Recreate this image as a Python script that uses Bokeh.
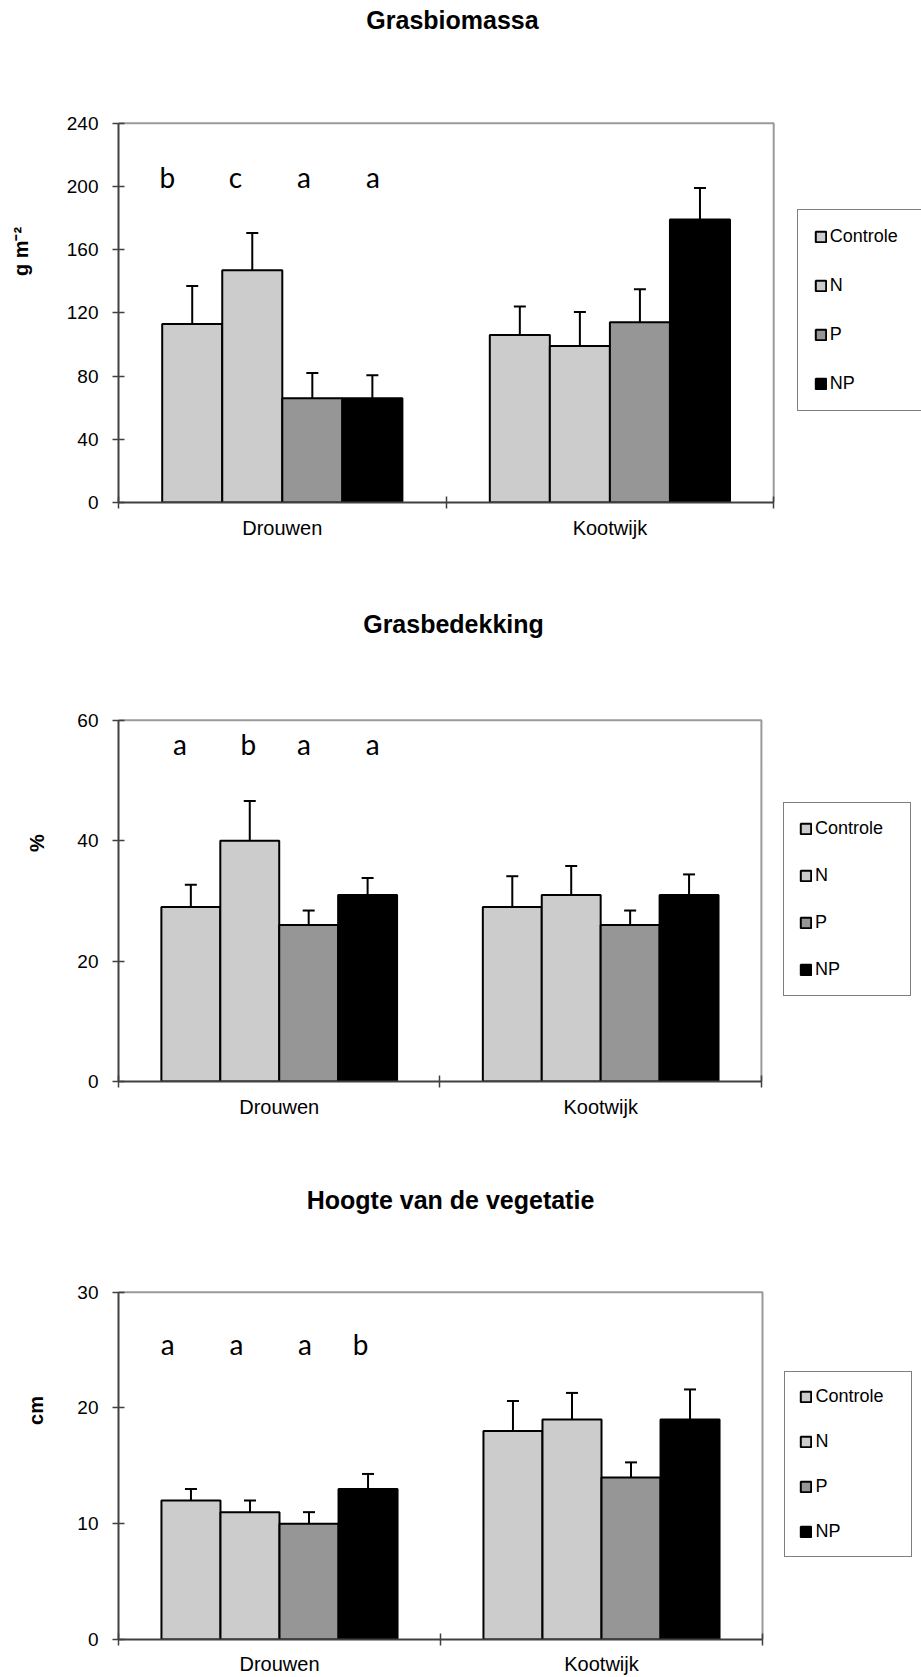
from bokeh.plotting import figure
from bokeh.models import (ColumnDataSource, FixedTicker, Legend, LegendItem,
                          Whisker, TeeHead, Range1d)
from bokeh.layouts import column
from bokeh.embed import file_html
from bokeh.resources import INLINE
from bokeh.core.properties import value

# ---------------- data ----------------
sites = ["Drouwen", "Kootwijk"]
treatments = ["Controle", "N", "P", "NP"]

# Grasbiomassa (g m-2)
biomass_drouwen = [113, 147, 66, 66]
biomass_kootwijk = [106, 99, 114, 179]
biomass_err_drouwen = [24, 23.5, 16, 14.5]
biomass_err_kootwijk = [18, 21.5, 21, 20]
biomass_letters = ["b", "c", "a", "a"]
biomass_ticks = [0, 40, 80, 120, 160, 200, 240]

# Grasbedekking (%)
cover_drouwen = [29, 40, 26, 31]
cover_kootwijk = [29, 31, 26, 31]
cover_err_drouwen = [3.7, 6.6, 2.4, 2.8]
cover_err_kootwijk = [5.1, 4.8, 2.4, 3.4]
cover_letters = ["a", "b", "a", "a"]
cover_ticks = [0, 20, 40, 60]

# Hoogte van de vegetatie (cm)
height_drouwen = [12, 11, 10, 13]
height_kootwijk = [18, 19, 14, 19]
height_err_drouwen = [1.0, 1.0, 1.0, 1.3]
height_err_kootwijk = [2.6, 2.3, 1.3, 2.6]
height_letters = ["a", "a", "a", "b"]
height_ticks = [0, 10, 20, 30]

# ---------------- styles / layout (pixels) ----------------
BAR_COLORS = ["#CCCCCC", "#CCCCCC", "#969696", "#000000"]
FONT = "Liberation Sans"
BAR_W = 0.1833
FIG_W = 921
LEFT = 118  # frame left edge (px)

panels = [
    dict(title="Grasbiomassa", ylabel="g m\u207b\u00b2", ticks=biomass_ticks,
         d=biomass_drouwen, k=biomass_kootwijk, ed=biomass_err_drouwen, ek=biomass_err_kootwijk,
         letters=biomass_letters, lx=[0.149, 0.357, 0.566, 0.777], ly=206.0,
         h=604, bottom=102, plot_top=122.7, plot_right=773.2, title_xy=(452, 19),
         leg=(678.7, 90.9), leg_pad=16, leg_sp=28, leg_lw=78, xstand=8, ystand=32),
    dict(title="Grasbedekking", ylabel="%", ticks=cover_ticks,
         d=cover_drouwen, k=cover_kootwijk, ed=cover_err_drouwen, ek=cover_err_kootwijk,
         letters=cover_letters, lx=[0.191, 0.404, 0.577, 0.791], ly=56.0,
         h=577, bottom=100, plot_top=115.8, plot_right=760.9, title_xy=(453, 19.4),
         leg=(665, 85.4), leg_pad=15, leg_sp=26, leg_lw=80, xstand=8, ystand=26),
    dict(title="Hoogte van de vegetatie", ylabel="cm", ticks=height_ticks,
         d=height_drouwen, k=height_kootwijk, ed=height_err_drouwen, ek=height_err_kootwijk,
         letters=height_letters, lx=[0.153, 0.366, 0.579, 0.752], ly=25.5,
         h=496, bottom=38, plot_top=110.7, plot_right=762.0, title_xy=(450, 18.8),
         leg=(666.4, 82.2), leg_pad=14, leg_sp=24, leg_lw=82, xstand=7, ystand=27),
]


def make_panel(cfg):
    ymax = cfg["ticks"][-1]
    frame_h = cfg["h"] - cfg["bottom"]          # frame spans from figure top
    frame_w = FIG_W - LEFT
    upx = (cfg["plot_right"] - LEFT) / 2.0      # px per x unit
    vpx = (frame_h - cfg["plot_top"]) / ymax    # px per y unit
    x_end = frame_w / upx
    y_end = frame_h / vpx

    p = figure(width=FIG_W, height=cfg["h"], output_backend="svg", toolbar_location=None,
               x_range=Range1d(0, x_end), y_range=Range1d(0, y_end),
               min_border_left=LEFT, min_border_right=0,
               min_border_top=0, min_border_bottom=cfg["bottom"])
    p.xgrid.visible = False
    p.ygrid.visible = False
    p.outline_line_color = None
    p.background_fill_color = "white"
    p.border_fill_color = "white"

    # title (drawn as text inside the extended frame)
    tx = (cfg["title_xy"][0] - LEFT) / upx
    ty = (frame_h - cfg["title_xy"][1]) / vpx
    p.text(x=[tx], y=[ty], text=[cfg["title"]], text_font=value(FONT),
           text_font_size="25px", text_font_style="bold", text_align="center",
           text_baseline="middle", text_color="black")

    # plot-area border (top and right, grey)
    p.line(x=[0, 2, 2], y=[ymax, ymax, 0], line_color="#9a9a9a", line_width=2)

    items = []
    for i, t in enumerate(treatments):
        off = (i - 1.5) * BAR_W
        vals = [cfg["d"][i], cfg["k"][i]]
        errs = [cfg["ed"][i], cfg["ek"][i]]
        src = ColumnDataSource(dict(x=[0.5 + off, 1.5 + off], top=vals,
                                    upper=[v + e for v, e in zip(vals, errs)]))
        r = p.vbar(x="x", top="top", bottom=0, width=BAR_W, source=src,
                   fill_color=BAR_COLORS[i], line_color="black", line_width=2)
        w = Whisker(source=src, base="x", lower="top", upper="upper",
                    line_color="black", line_width=2, lower_head=None,
                    upper_head=TeeHead(size=12, line_color="black", line_width=2))
        p.add_layout(w)
        items.append(LegendItem(label=t, renderers=[r]))

    p.text(x=cfg["lx"], y=[cfg["ly"]] * 4, text=cfg["letters"],
           text_font=value("Lato"), text_font_size="28px", text_align="center",
           text_baseline="alphabetic", text_color="black")

    leg = Legend(items=items, location=cfg["leg"], padding=cfg["leg_pad"],
                 spacing=cfg["leg_sp"], glyph_width=13, glyph_height=13,
                 label_height=18, label_width=cfg["leg_lw"], label_standoff=3,
                 label_text_font=FONT, label_text_font_size="18px",
                 label_text_color="black", border_line_color="black", border_line_width=1,
                 background_fill_color="white", background_fill_alpha=1, margin=0)
    p.add_layout(leg)

    # y axis
    ya = p.yaxis[0]
    ya.bounds = (0, ymax)
    ya.ticker = FixedTicker(ticks=cfg["ticks"])
    ya.minor_tick_line_color = None
    ya.major_tick_in = 6
    ya.major_tick_out = 6
    ya.axis_line_color = "#404040"
    ya.axis_line_width = 2
    ya.major_tick_line_color = "#404040"
    ya.major_tick_line_width = 1.5
    ya.major_label_text_font = FONT
    ya.major_label_text_font_size = "19px"
    ya.major_label_text_color = "black"
    ya.major_label_standoff = 14
    ya.axis_label = cfg["ylabel"]
    ya.axis_label_text_font = FONT
    ya.axis_label_text_font_size = "20px"
    ya.axis_label_text_font_style = "bold"
    ya.axis_label_text_color = "black"
    ya.axis_label_standoff = cfg["ystand"]

    # x axis
    xa = p.xaxis[0]
    xa.bounds = (0, 2)
    xa.ticker = FixedTicker(ticks=[0.5, 1.5], minor_ticks=[0, 1, 2])
    xa.major_label_overrides = {0.5: sites[0], 1.5: sites[1]}
    xa.major_tick_in = 0
    xa.major_tick_out = 0
    xa.minor_tick_in = 6
    xa.minor_tick_out = 6
    xa.minor_tick_line_color = "#404040"
    xa.minor_tick_line_width = 1.5
    xa.axis_line_color = "#404040"
    xa.axis_line_width = 2
    xa.major_label_text_font = FONT
    xa.major_label_text_font_size = "20px"
    xa.major_label_text_color = "black"
    xa.major_label_standoff = cfg["xstand"]
    return p


figs = [make_panel(c) for c in panels]
layout = column(*figs, spacing=0)
open("out.html", "w").write(file_html(layout, INLINE))
